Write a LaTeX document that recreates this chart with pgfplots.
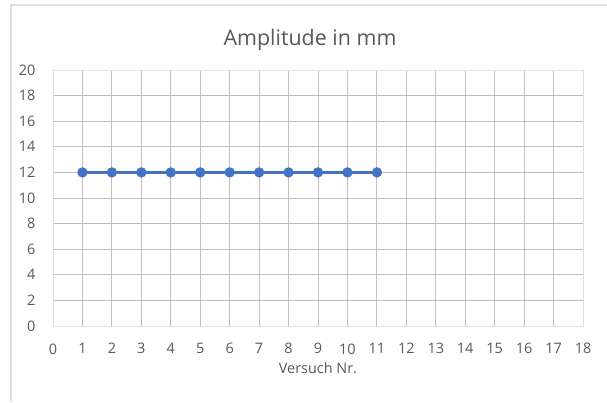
\documentclass[border=0pt]{standalone}
\usepackage{fontspec}
\setmainfont{Open Sans}
\usepackage{pgfplots}
\pgfplotsset{compat=1.18}
\definecolor{grid}{HTML}{E0E0E0}
\definecolor{txt}{HTML}{595959}
\definecolor{ser}{HTML}{4472C4}
\begin{document}
\begin{tikzpicture}[x=1bp,y=1bp]
\path[use as bounding box] (0,0) rectangle (607,402);
\fill[white] (0,0) rectangle (607,402);
\draw[grid, line width=1.5bp] (11,0) -- (11,397) -- (607,397);
\node[txt, font=\fontsize{21.5}{24}\selectfont] at (310,362) {Amplitude in mm};
\begin{axis}[
  at={(53bp,76bp)}, anchor=south west,
  scale only axis, width=530bp, height=256bp,
  xmin=0, xmax=18, ymin=0, ymax=20,
  xtick={0,1,...,18}, ytick={0,2,...,20},
  grid=major, major grid style={grid, line width=0.8bp},
  axis line style={grid, line width=0.8bp},
  tick style={draw=none},
  tick label style={txt, font=\fontsize{14.5}{16}\selectfont},
  /pgf/number format/assume math mode=true,
  xlabel={Versuch Nr.}, label style={txt, font=\fontsize{14.5}{16}\selectfont},
  xlabel style={yshift=-2bp},
  xticklabel style={yshift=-14bp},
  yticklabel style={xshift=-14bp},
]
\addplot[ser, line width=2.25bp, mark=*, mark size=4bp, mark options={fill=ser, draw=ser}] coordinates {
(1,12) (2,12) (3,12) (4,12) (5,12) (6,12) (7,12) (8,12) (9,12) (10,12) (11,12)
};
\end{axis}
\end{tikzpicture}
\end{document}
